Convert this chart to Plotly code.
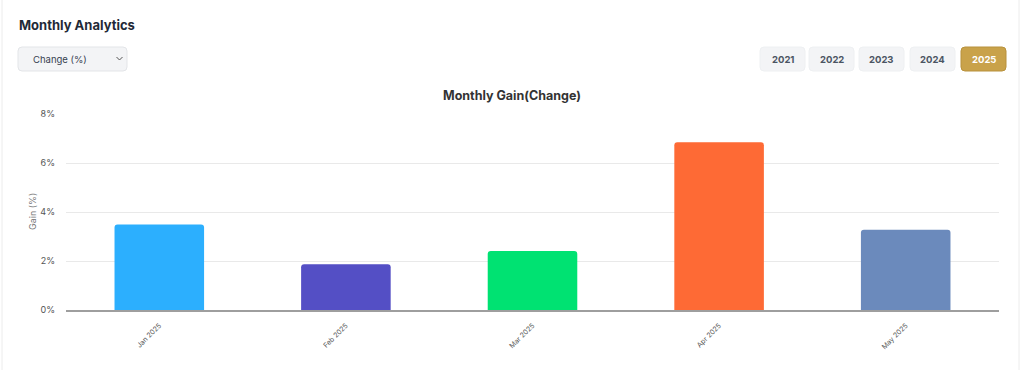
import plotly.graph_objects as go

# ---- data ----
months = ["Jan 2025", "Feb 2025", "Mar 2025", "Apr 2025", "May 2025"]
gains = [3.49, 1.87, 2.41, 6.85, 3.28]
bar_colors = ["#2caffe", "#544fc5", "#00e272", "#fe6a35", "#6b8abc"]
years = ["2021", "2022", "2023", "2024", "2025"]
selected_year = "2025"
y_ticks = [0, 2, 4, 6, 8]

W, H = 1024, 370
L, R, T, B = 66, 999, 114, 310

def px(x):
    return (x - L) / (R - L)

def py(y):
    return (B - y) / (B - T)

def rrect(x0, y0, x1, y1, r):
    X0, X1, Yt, Yb = px(x0), px(x1), py(y0), py(y1)
    rx, ry = r / (R - L), r / (B - T)
    return (f"M {X0+rx},{Yt} L {X1-rx},{Yt} Q {X1},{Yt} {X1},{Yt-ry} "
            f"L {X1},{Yb+ry} Q {X1},{Yb} {X1-rx},{Yb} L {X0+rx},{Yb} "
            f"Q {X0},{Yb} {X0},{Yb+ry} L {X0},{Yt-ry} Q {X0},{Yt} {X0+rx},{Yt} Z")

FONT = "Inter, 'Liberation Sans', Arial, sans-serif"

fig = go.Figure()
fig.add_trace(go.Bar(
    x=months, y=gains,
    marker=dict(color=bar_colors, line=dict(width=0), cornerradius=3),
    hoverinfo="skip",
))

shapes = []
annotations = []

# card border
shapes.append(dict(type="path", xref="paper", yref="paper",
                   path=rrect(2, -10, 1019, 380, 6),
                   line=dict(color="#ececec", width=1), fillcolor="rgba(0,0,0,0)", layer="below"))

# header
annotations.append(dict(text="<b>Monthly Analytics</b>", xref="paper", yref="paper",
                        x=px(17), y=py(25), xanchor="left", yanchor="middle", showarrow=False,
                        font=dict(family=FONT, size=13, color="#1f2937")))

# dropdown
shapes.append(dict(type="path", xref="paper", yref="paper",
                   path=rrect(18, 47, 127, 71, 4),
                   line=dict(color="#e3e5e8", width=1), fillcolor="#f3f4f6"))
annotations.append(dict(text="Change (%)", xref="paper", yref="paper",
                        x=px(31), y=py(59), xanchor="left", yanchor="middle", showarrow=False,
                        font=dict(family=FONT, size=9.5, color="#374151")))
shapes.append(dict(type="path", xref="paper", yref="paper",
                   path=f"M {px(116.5)},{py(57)} L {px(119.5)},{py(60)} L {px(122.5)},{py(57)}",
                   line=dict(color="#555", width=1)))

# year buttons
btn_x = [760, 809, 859, 910, 961]
btn_w = 45
for yr, bx in zip(years, btn_x):
    sel = yr == selected_year
    shapes.append(dict(type="path", xref="paper", yref="paper",
                       path=rrect(bx, 47, bx + btn_w, 71, 4),
                       line=dict(color="#b8913c" if sel else "#eef0f2", width=1),
                       fillcolor="#c9a24a" if sel else "#f3f4f6"))
    annotations.append(dict(text=f"<b>{yr}</b>", xref="paper", yref="paper",
                            x=px(bx + btn_w / 2), y=py(59), xanchor="center", yanchor="middle",
                            showarrow=False,
                            font=dict(family=FONT, size=9.5, color="#ffffff" if sel else "#4b5563")))

# chart title
annotations.append(dict(text="<b>Monthly Gain(Change)</b>", xref="paper", yref="paper",
                        x=px(512), y=py(95), xanchor="center", yanchor="middle", showarrow=False,
                        font=dict(family=FONT, size=12.5, color="#333333")))

# y axis title
annotations.append(dict(text="Gain (%)", xref="paper", yref="paper",
                        x=px(32), y=0.5, xanchor="center", yanchor="middle", textangle=-90,
                        showarrow=False, font=dict(family=FONT, size=9, color="#777777")))

fig.update_layout(
    width=W, height=H,
    margin=dict(l=L, r=W - R, t=T, b=H - B, autoexpand=False),
    paper_bgcolor="#ffffff", plot_bgcolor="#ffffff",
    showlegend=False, bargap=0.52,
    shapes=shapes, annotations=annotations,
    font=dict(family=FONT),
)
fig.update_xaxes(
    showline=True, linecolor="#9e9e9e", linewidth=1.5, showgrid=False,
    tickangle=-45, tickfont=dict(family=FONT, size=7, color="#555555"),
    ticks="", ticklabelstandoff=7, fixedrange=True,
)
fig.update_yaxes(
    range=[0, 8], tickvals=y_ticks, ticktext=[f"{v}%" for v in y_ticks],
    showgrid=True, gridcolor="#e9e9e9", gridwidth=1, zeroline=False, showline=False,
    tickfont=dict(family=FONT, size=9, color="#555555"), ticklabelstandoff=10,
    fixedrange=True,
)

fig.write_html(
    "out.html",
    config={"displayModeBar": False},
    post_script="document.body.style.margin='0';document.body.style.overflow='hidden';",
)
